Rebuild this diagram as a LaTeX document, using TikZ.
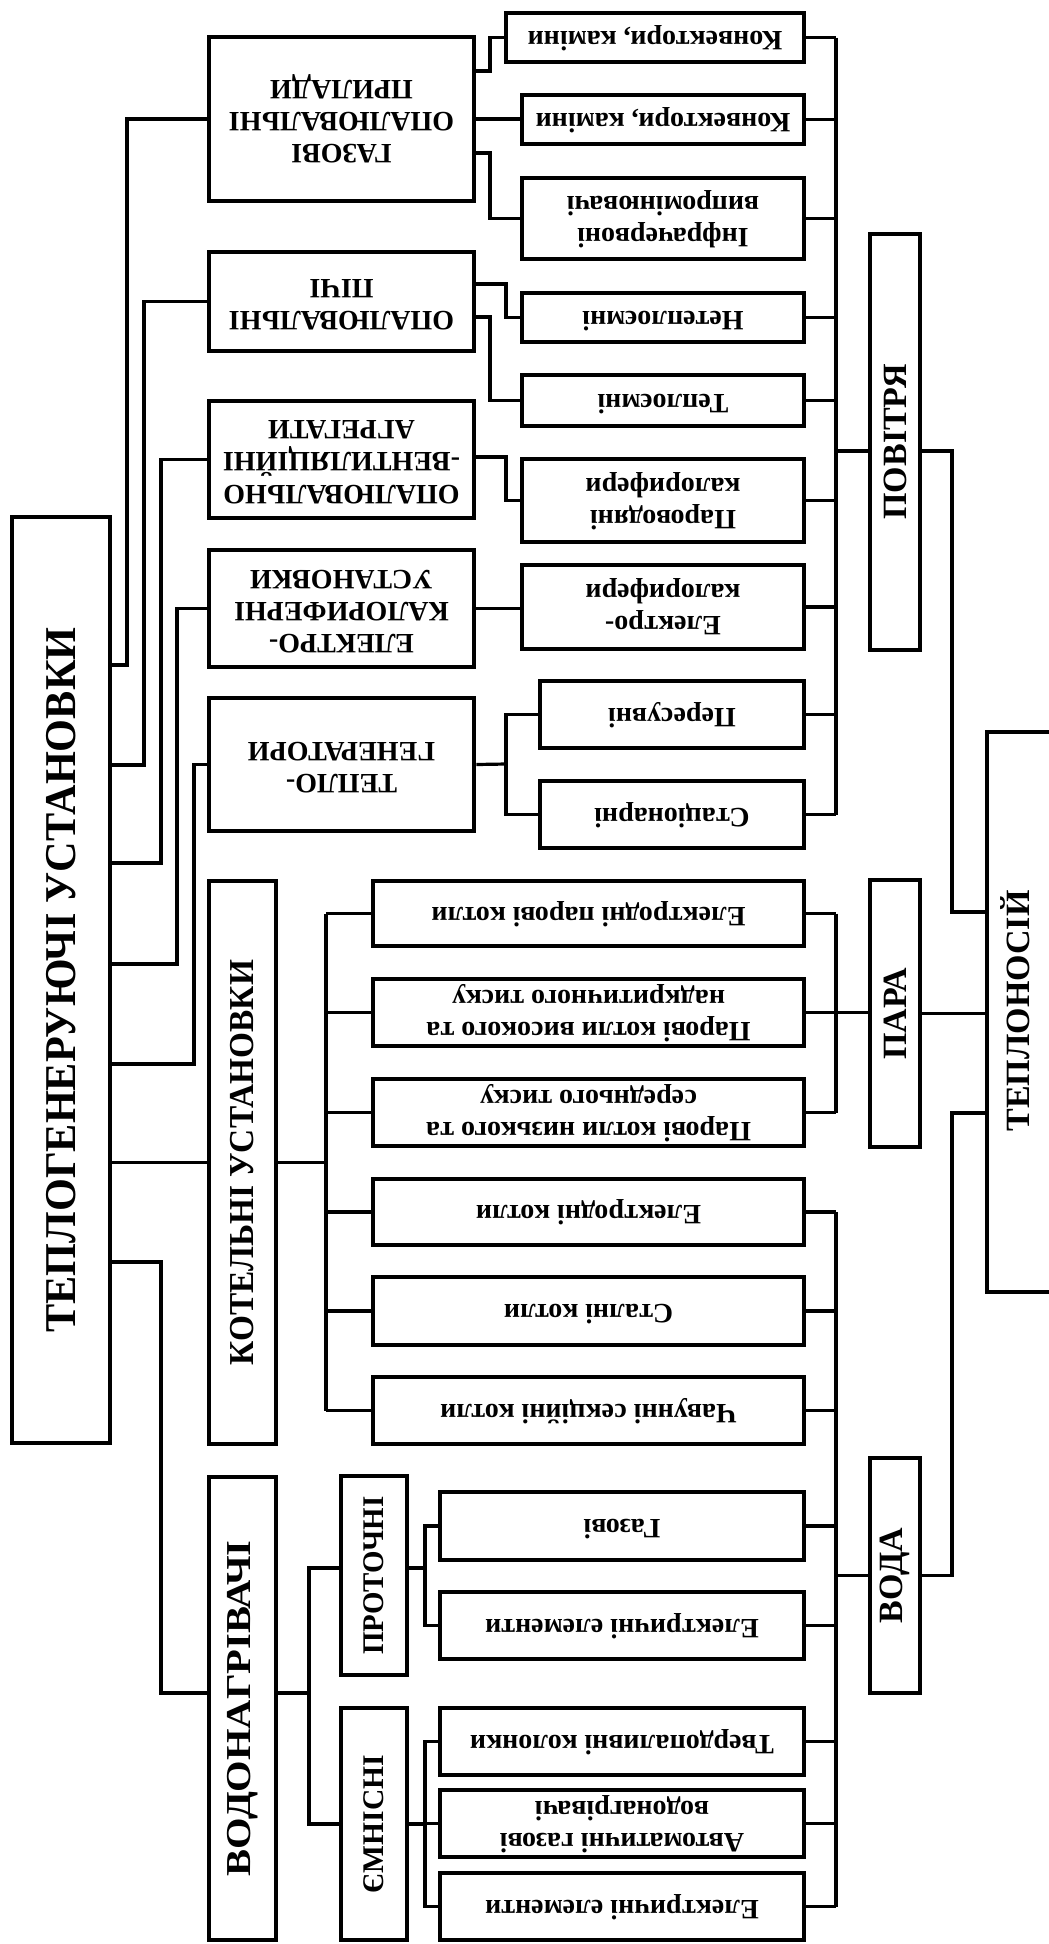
\documentclass[tikz,border=0pt]{standalone}
\usepackage{fontspec}
\setmainfont{Liberation Serif}
\usepackage{graphicx}
\usetikzlibrary{calc}

\tikzset{
  base/.style={draw, inner sep=0pt, line width=3.2pt, font=\bfseries\fontsize{28}{32}\selectfont},
  thk/.style={base, line width=4.8pt},
  mid/.style={base, line width=4pt},
  conn/.style={line width=3.2pt},
}
\newcommand{\bx}[7]{\node[#6, minimum width={(#4)-(#2)}, minimum height={(#5)-(#3)}] (#1) at ({((#2)+(#4))/2},{((#3)+(#5))/2}) {#7};}
\newcommand{\ud}[1]{\rotatebox{180}{\begin{tabular}{@{}c@{}}#1\end{tabular}}}
\newcommand{\vt}[2]{\rotatebox{90}{\fontsize{#1}{#1}\selectfont #2}}
\newcommand{\vs}[3]{\rotatebox{90}{\resizebox{#2}{\height}{\fontsize{#1}{#1}\selectfont #3}}}

\begin{document}
\begin{tikzpicture}[x=1pt,y=-1pt]
\fill[white] (0,0) rectangle (1049,1944);
\useasboundingbox (0,0) rectangle (1049,1944);

% main box
\bx{main}{12}{517}{110}{1443}{thk}{\vs{44}{705pt}{ТЕПЛОГЕНЕРУЮЧІ УСТАНОВКИ}}

% categories
\bx{g1}{209}{37}{474}{201}{thk}{\ud{ГАЗОВІ\\ОПАЛЮВАЛЬНІ\\ПРИЛАДИ}}
\bx{g2}{209}{252}{474}{351}{thk}{\ud{ОПАЛЮВАЛЬНІ\\ПІЧІ}}
\bx{g3}{209}{401}{474}{518}{thk}{\ud{ОПАЛЮВАЛЬНО\\-ВЕНТИЛЯЦІЙНІ\\АГРЕГАТИ}}
\bx{g4}{209}{550}{474}{667}{thk}{\ud{ЕЛЕКТРО-\\КАЛОРИФЕРНІ\\УСТАНОВКИ}}
\bx{g5}{209}{698}{474}{831}{thk}{\ud{ТЕПЛО-\\ГЕНЕРАТОРИ}}
\bx{g6}{209}{881}{276}{1444}{thk}{\vs{35}{405pt}{КОТЕЛЬНІ УСТАНОВКИ}}
\bx{g7}{209}{1477}{276}{1940}{thk}{\vs{35}{336pt}{ВОДОНАГРІВАЧІ}}

% air children
\bx{c1}{506}{13}{804}{62}{base}{\ud{Конвектори, каміни}}
\bx{c2}{522}{95}{804}{144}{base}{\ud{Конвектори, каміни}}
\bx{c3}{522}{178}{804}{259}{base}{\ud{Інфрачервоні\\випромінювачі}}
\bx{c4}{522}{293}{804}{342}{base}{\ud{Нетеплоємні}}
\bx{c5}{522}{375}{804}{426}{base}{\ud{Теплоємні}}
\bx{c6}{522}{459}{804}{542}{base}{\ud{Пароводяні\\калорифери}}
\bx{c7}{522}{565}{804}{649}{base}{\ud{Електро-\\калорифери}}
\bx{c8}{540}{681}{804}{748}{base}{\ud{Пересувні}}
\bx{c9}{540}{781}{804}{848}{base}{\ud{Стаціонарні}}

% boilers
\bx{k1}{373}{881}{804}{946}{base}{\ud{Електродні парові котли}}
\bx{k2}{373}{979}{804}{1046}{base}{\ud{Парові котли високого та\\надкритичного тиску}}
\bx{k3}{373}{1079}{804}{1146}{base}{\ud{Парові котли низького та\\середнього тиску}}
\bx{k4}{373}{1179}{804}{1245}{base}{\ud{Електродні котли}}
\bx{k5}{373}{1277}{804}{1345}{base}{\ud{Сталні котли}}
\bx{k6}{373}{1377}{804}{1444}{base}{\ud{Чавунні секційні котли}}

% water heaters
\bx{p}{341}{1476}{407}{1675}{mid}{\vs{30}{158pt}{ПРОТОЧНІ}}
\bx{e}{341}{1708}{407}{1940}{mid}{\vs{30}{138pt}{ЄМНІСНІ}}
\bx{w1}{440}{1492}{804}{1560}{base}{\ud{Газові}}
\bx{w2}{440}{1592}{804}{1659}{base}{\ud{Електричні елементи}}
\bx{w3}{440}{1708}{804}{1775}{base}{\ud{Твердопаливні колонки}}
\bx{w4}{440}{1790}{804}{1857}{base}{\ud{Автоматичні газові\\водонагрівачі}}
\bx{w5}{440}{1873}{804}{1940}{base}{\ud{Електричні елементи}}

% media
\bx{pov}{870}{234}{920}{650}{thk}{\vt{34}{ПОВІТРЯ}}
\bx{para}{870}{880}{920}{1147}{thk}{\vt{34}{ПАРА}}
\bx{voda}{870}{1458}{920}{1693}{thk}{\vt{34}{ВОДА}}
\bx{tn}{987}{732}{1064}{1292}{thk}{}
\node[font=\bfseries, inner sep=0pt] (tnt) at (1015,1011) {\vt{34}{ТЕПЛОНОСІЙ}};

\begin{scope}[conn]
% main to categories
\coordinate (t1) at (127,665); \draw (t1 -| main.east) -- (t1) |- (g1.west);
\coordinate (t2) at (144,765); \draw (t2 -| main.east) -- (t2) |- (g2.west);
\coordinate (t3) at (161,863); \draw (t3 -| main.east) -- (t3) |- (g3.west);
\coordinate (t4) at (177,964); \draw (t4 -| main.east) -- (t4) |- (g4.west);
\coordinate (t5) at (194,1064); \draw (t5 -| main.east) -- (t5) |- (g5.west);
\draw (main.east |- g6.west) -- (g6.west);
\coordinate (t7) at (161,1262); \coordinate (g7in) at (209,1693);
\draw (t7 -| main.east) -- (t7) |- (g7in);

% categories to air children
\coordinate (j1) at (490,71); \draw (j1 -| g1.east) -- (j1) |- (c1.west);
\draw (g1.east) -- (g1.east -| c2.west);
\coordinate (j3) at (490,153); \draw (j3 -| g1.east) -- (j3) |- (c3.west);
\coordinate (j4) at (506,284); \draw (j4 -| g2.east) -- (j4) |- (c4.west);
\coordinate (j5) at (490,317); \draw (j5 -| g2.east) -- (j5) |- (c5.west);
\coordinate (j6) at (506,457); \draw (j6 -| g3.east) -- (j6) |- (c6.west);
\draw (g4.east) -- (g4.east -| c7.west);
\coordinate (j8) at (506,764); \draw (g5.east) -- (j8);
\draw (c8.west) -| (j8) |- (c9.west);

% right bus
\coordinate (ab) at (836,0);
\foreach \n in {c1,c2,c3,c4,c5,c6,c7,c8,c9,k1,k3,k4,k5,k6,w1,w2,w3,w4,w5}
  \draw (\n.east) -- (\n.east -| ab);
\draw (c1.east -| ab) -- (c9.east -| ab);
\draw (k1.east -| ab) -- (k3.east -| ab);
\draw (k4.east -| ab) -- (w5.east -| ab);
\coordinate (pin) at (836,451); \draw (pin) -- (pin -| pov.west);
\draw (k2.east) -- (k2.east -| para.west);
\draw (voda.west -| ab) -- (voda.west);

% media to heat carrier
\coordinate (q2) at (952,912); \draw (pin -| pov.east) -| (q2) -- (q2 -| tn.west);
\draw (para.east) -- (para.east -| tn.west);
\coordinate (q4) at (952,1113); \draw (voda.east) -| (q4) -- (q4 -| tn.west);

% boilers
\coordinate (kb) at (326,0);
\draw (g6.east) -- (g6.east -| kb);
\draw (k1.west -| kb) -- (k6.west -| kb);
\foreach \n in {k1,k2,k3,k4,k5,k6} \draw (\n.west -| kb) -- (\n.west);

% water heaters
\coordinate (v0) at (309,1693); \draw (v0 -| g7.east) -- (v0);
\coordinate (pp) at (309,1568); \draw (v0) -- (pp) -- (pp -| p.west);
\draw (v0) |- (e.west);
\coordinate (r1) at (425,1568); \draw (r1 -| p.east) -- (r1);
\draw (w1.west) -| (r1); \draw (w2.west) -| (r1);
\coordinate (r2) at (425,1824); \draw (e.east) -- (e.east -| r2);
\draw (w3.west) -| (r2); \draw (w5.west) -| (r2);
\draw (w4.west) -- (w4.west -| r2);
\end{scope}
\end{tikzpicture}
\end{document}
